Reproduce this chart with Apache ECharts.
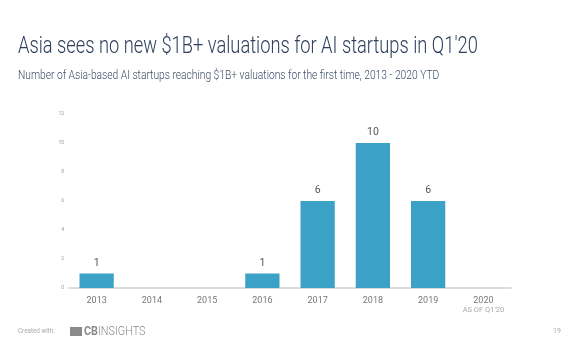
<!DOCTYPE html>
<html>
<head>
<meta charset="utf-8">
<script src="https://cdn.jsdelivr.net/npm/echarts@6/dist/echarts.min.js"></script>
<style>
html,body{margin:0;padding:0;background:#fff;}
#c{width:572px;height:364px;}
</style>
</head>
<body>
<div id="c"></div>
<script>
const categories = ['2013','2014','2015','2016','2017','2018','2019','2020'];
const startups = [1, 0, 0, 1, 6, 10, 6, 0];
const yTicks = [0, 2, 4, 6, 8, 10, 12];
const titleText = "Asia sees no new $1B+ valuations for AI startups in Q1'20";
const subtitleText = "Number of Asia-based AI startups reaching $1B+ valuations for the first time, 2013 - 2020 YTD";

const chart = echarts.init(document.getElementById('c'), null, {renderer: 'canvas'});
chart.setOption({
  animation: false,
  backgroundColor: '#ffffff',
  graphic: [
    {type: 'text', x: 18, y: 36, scaleX: 0.795, originX: 0,
     style: {text: titleText, font: '300 23px Roboto', fill: '#2c3e5a', textVerticalAlign: 'top'}},
    {type: 'text', x: 18, y: 69, scaleX: 0.82, originX: 0,
     style: {text: subtitleText, font: '300 12.5px Roboto', fill: '#3b4c66', textVerticalAlign: 'top'}},
    {type: 'text', x: 18, y: 328, scaleX: 0.9, originX: 0,
     style: {text: 'Created with:', font: '400 7px Roboto', fill: '#aaaaaa', textVerticalAlign: 'top'}},
    {type: 'rect', shape: {x: 70, y: 327, width: 12, height: 9}, style: {fill: '#8a8a8a'}},
    {type: 'text', x: 84, y: 325.5, scaleX: 0.9, originX: 0,
     style: {text: '{cb|CB}{ins|INSIGHTS}', textVerticalAlign: 'top',
       rich: {
         cb: {fontSize: 12, fontWeight: 'bold', fill: '#8a8a8a', fontFamily: 'Roboto'},
         ins: {fontSize: 12, fontWeight: 300, fill: '#8a8a8a', fontFamily: 'Roboto'}
       }}},
    {type: 'text', x: 553, y: 328,
     style: {text: '19', font: '400 7px Roboto', fill: '#aaaaaa', textVerticalAlign: 'top'}}
  ],
  grid: {left: 69, right: 61, top: 114, bottom: 76, containLabel: false},
  xAxis: {
    type: 'category',
    data: categories,
    axisLine: {lineStyle: {color: '#d0d0d0', width: 1.5}},
    axisTick: {show: false},
    axisLabel: {
      interval: 0,
      margin: 7,
      fontFamily: 'Roboto', fontSize: 9, color: '#777777', lineHeight: 11,
      formatter: function (v) { return v === '2020' ? v + "\n{s|AS OF Q1'20}" : v; },
      rich: {s: {fontSize: 7.5, color: '#aaaaaa', fontFamily: 'Roboto', lineHeight: 9}}
    }
  },
  yAxis: {
    type: 'value',
    min: yTicks[0], max: yTicks[yTicks.length - 1], interval: 2,
    splitLine: {show: false},
    axisLine: {show: false},
    axisTick: {show: false},
    axisLabel: {fontFamily: 'Roboto', fontSize: 5, color: '#999999', margin: 5}
  },
  series: [{
    type: 'bar',
    data: startups.map(v => v === 0 ? null : v),
    barWidth: '62%',
    itemStyle: {color: '#3ca1c7'},
    label: {show: true, position: 'top', distance: 5,
      fontFamily: 'Roboto', fontSize: 10.5, color: '#555555'}
  }]
});
</script>
</body>
</html>
